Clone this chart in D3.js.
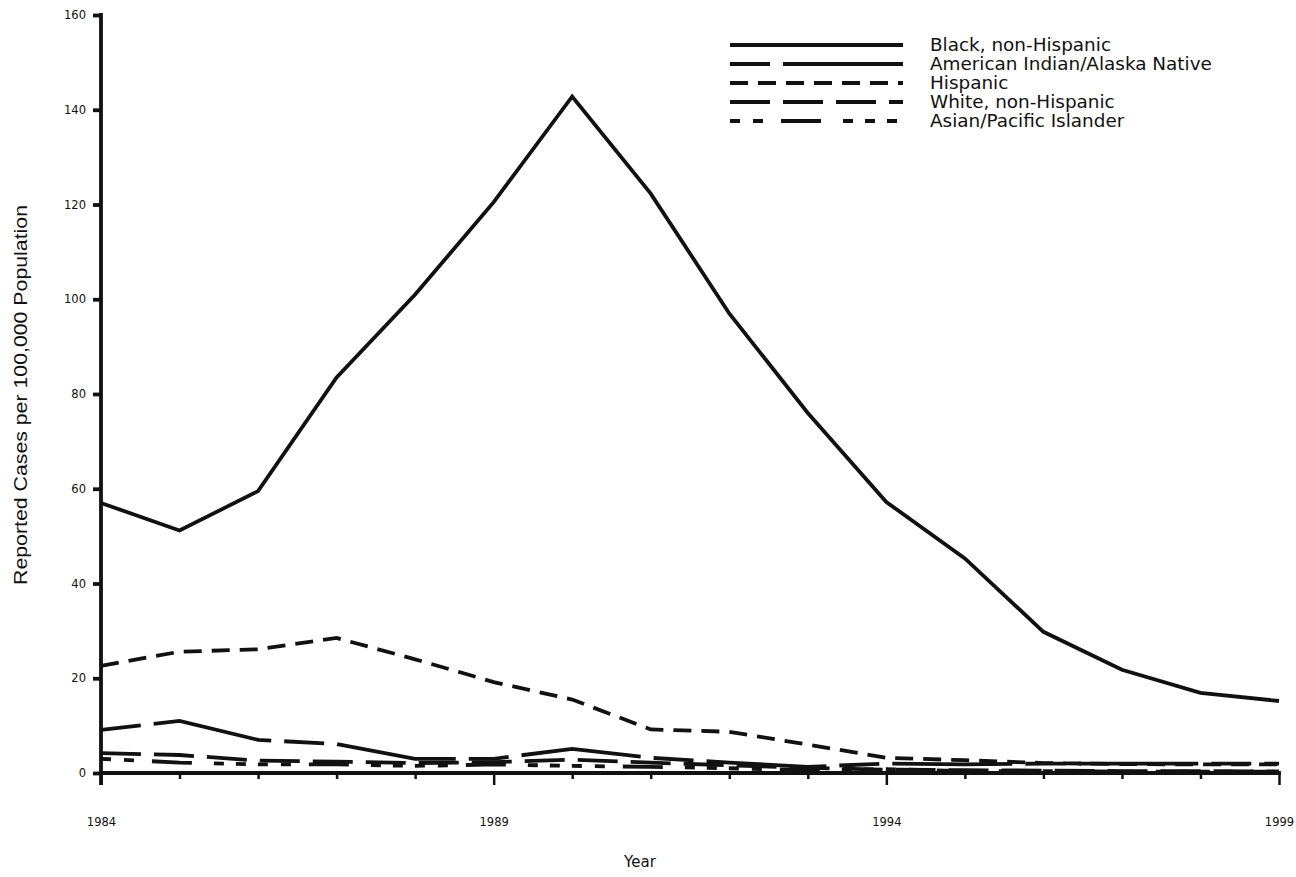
<!DOCTYPE html>
<html><head><meta charset="utf-8">
<script src="https://cdn.jsdelivr.net/npm/d3@7"></script>
<style>body{margin:0;background:#fff;} text{font-family:"DejaVu Sans",sans-serif;fill:#111;}</style>
</head><body>
<svg id="c" width="1296" height="877"></svg>
<script>
const years = [1984,1985,1986,1987,1988,1989,1990,1991,1992,1993,1994,1995,1996,1997,1998,1999];
const black = [57,51.2,59.5,83.5,101,120.5,142.8,122.3,97,76,57.2,45.3,29.8,21.8,16.9,15.2];
const amInd = [9.1,11,7,6.1,3,3,5.1,3.2,2.2,1.3,2,1.8,2,2,2,2];
const hispanic = [22.6,25.6,26.1,28.5,24,19.2,15.5,9.2,8.7,6,3.2,2.7,2.1,1.9,1.8,1.8];
const white = [4.2,3.8,2.6,2.4,2.1,2.3,2.8,2.2,1.6,1.1,0.7,0.6,0.5,0.4,0.4,0.3];
const asian = [3,2.2,1.8,1.8,1.5,1.8,1.5,1.3,1,0.6,0.8,0.4,0.4,0.3,0.3,0.3];
const seriesNames = ["Black, non-Hispanic","American Indian/Alaska Native","Hispanic","White, non-Hispanic","Asian/Pacific Islander"];
const yTicks = [0,20,40,60,80,100,120,140,160];
const xLabels = [1984,1989,1994,1999];

const series = [
  {name:seriesNames[0], values:black, dash:null},
  {name:seriesNames[1], values:amInd, dash:"40,13,120,13"},
  {name:seriesNames[2], values:hispanic, dash:"18,10"},
  {name:seriesNames[3], values:white, dash:"40,13"},
  {name:seriesNames[4], values:asian, dash:"10,13,10,18,40,22,10,12,10,12"}
];

const svg = d3.select("#c");
const x = d3.scaleLinear().domain([1984,1999]).range([101,1279]);
const y = d3.scaleLinear().domain([0,160]).range([773,15]);
const SW = 3.8;

const line = d3.line().x((d,i)=>x(years[i])).y(d=>y(d));
series.slice().reverse().forEach(s=>{
  svg.append("path").attr("d", line(s.values)).attr("fill","none")
    .attr("stroke","#111").attr("stroke-width",SW)
    .attr("stroke-dasharray", s.dash);
});

// Y axis
const yAxis = d3.axisLeft(y).tickValues(yTicks).tickSize(8).tickPadding(7).tickFormat(d3.format("d"));
const gy = svg.append("g").attr("transform","translate(101,0)").call(yAxis);
gy.select(".domain").remove();
gy.selectAll(".tick line").attr("stroke","#111").attr("stroke-width",SW);
gy.selectAll(".tick text").attr("font-size",11.5).style("font-family","DejaVu Sans, sans-serif");
svg.append("line").attr("x1",101).attr("x2",101).attr("y1",y(160)-1.9).attr("y2",785)
  .attr("stroke","#111").attr("stroke-width",SW);

// X axis
const xAxis = d3.axisBottom(x).tickValues(years).tickSize(6).tickFormat(d => xLabels.includes(d) ? d : "").tickPadding(39);
const gx = svg.append("g").attr("transform","translate(0,773)").call(xAxis);
gx.select(".domain").remove();
gx.selectAll(".tick line").attr("stroke","#111").attr("stroke-width",2.5)
  .attr("y2", d => xLabels.includes(d) ? 12 : 6);
gx.selectAll(".tick text").attr("font-size",11.5).style("font-family","DejaVu Sans, sans-serif");
svg.append("line").attr("x1",101).attr("x2",x(1999)+1.9).attr("y1",773).attr("y2",773)
  .attr("stroke","#111").attr("stroke-width",SW);

// axis titles
svg.append("text").attr("x",640).attr("y",867).attr("text-anchor","middle").attr("font-size",15).text("Year");
svg.append("text").attr("transform","translate(27,395) rotate(-90)").attr("text-anchor","middle")
  .attr("font-size",18).style("font-family","Liberation Sans, Arial, sans-serif")
  .attr("textLength",380).attr("lengthAdjust","spacingAndGlyphs")
  .text("Reported Cases per 100,000 Population");

// legend
const lg = svg.append("g");
series.forEach((s,i)=>{
  const yy = 45 + i*19;
  lg.append("line").attr("x1",730).attr("x2",903).attr("y1",yy).attr("y2",yy)
    .attr("stroke","#111").attr("stroke-width",SW).attr("stroke-dasharray",s.dash);
  lg.append("text").attr("x",930).attr("y",yy+6).attr("font-size",18.4).text(s.name);
});
</script>
</body></html>
